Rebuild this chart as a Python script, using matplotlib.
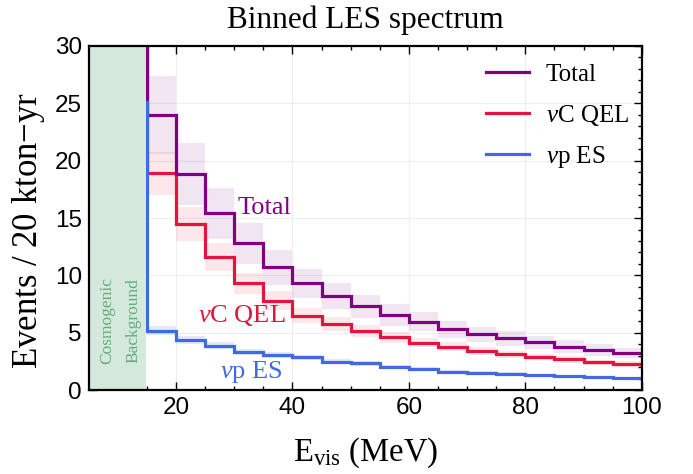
import numpy as np
import matplotlib
matplotlib.use('Agg')
import matplotlib.pyplot as plt
from matplotlib.ticker import MultipleLocator

plt.rcParams['font.family'] = 'serif'
plt.rcParams['font.serif'] = ['Liberation Serif', 'DejaVu Serif']
plt.rcParams['mathtext.fontset'] = 'custom'
plt.rcParams['mathtext.rm'] = 'Liberation Serif'
plt.rcParams['mathtext.it'] = 'Liberation Serif:italic'

# bin edges (MeV); the 10-15 bin sits under the cosmogenic band
edges = np.arange(10, 101, 5)

total = [60, 24.0, 18.8, 15.4, 12.8, 10.7, 9.3, 8.2, 7.3, 6.55, 5.95, 5.3, 4.85, 4.5, 4.15, 3.8, 3.5, 3.25]
qel = [35, 18.9, 14.5, 11.6, 9.3, 7.8, 6.5, 5.75, 5.15, 4.6, 4.13, 3.78, 3.4, 3.14, 2.9, 2.67, 2.42, 2.27]
pes = [25.1, 5.17, 4.4, 3.87, 3.34, 3.05, 2.85, 2.47, 2.32, 2.03, 1.83, 1.6, 1.51, 1.42, 1.31, 1.22, 1.1, 1.02]

# uncertainties for the visible bins (15-100 MeV)
total_err = [3.4, 2.7, 2.2, 1.8, 1.5, 1.3, 1.15, 1.0, 0.92, 0.83, 0.75, 0.68, 0.63, 0.58, 0.53, 0.49, 0.46]
qel_err = [1.9, 1.5, 1.2, 0.95, 0.8, 0.65, 0.58, 0.52, 0.46, 0.41, 0.38, 0.34, 0.31, 0.29, 0.27, 0.24, 0.23]
pes_err = [0.4, 0.35, 0.3, 0.27, 0.24, 0.22, 0.2, 0.18, 0.16, 0.15, 0.14, 0.13, 0.12, 0.11, 0.1, 0.09, 0.08]

c_tot = '#800080'
c_qel = '#e3153f'
c_pes = '#4169e1'

fig = plt.figure(figsize=(6.93, 4.74), dpi=100)
ax = fig.add_axes([0.128, 0.177, 0.798, 0.726])

# error bands
left = edges[1:-1]
for vals, err, col, a in [(total, total_err, c_tot, 0.1), (qel, qel_err, c_qel, 0.1), (pes, pes_err, c_pes, 0.14)]:
    v = np.array(vals[1:])
    e = np.array(err)
    ax.bar(left, 2 * e, bottom=v - e, width=5, align='edge', color=col, alpha=a, lw=0, zorder=1)

lw = 2.3
ax.stairs(qel, edges, baseline=None, color=c_qel, lw=lw, zorder=3, label=r'$\nu$C QEL')
ax.stairs(total, edges, baseline=None, color=c_tot, lw=lw, zorder=4, label='Total')
ax.stairs(pes, edges, baseline=None, color=c_pes, lw=lw, zorder=5, label=r'$\nu$p ES')

# cosmogenic background region
ax.axvspan(5, 14.8, color='#d4e8dc', lw=0, zorder=6)
ax.text(8.2, 6.1, 'Cosmogenic', rotation=90, ha='center', va='center',
        fontsize=12.5, color='#62ad7c', zorder=7)
ax.text(12.7, 6.1, 'Background', rotation=90, ha='center', va='center',
        fontsize=12.5, color='#62ad7c', zorder=7)

ax.text(30.6, 15.9, 'Total', color=c_tot, fontsize=19, va='center', ha='left')
ax.text(23.8, 6.5, r'$\nu$C QEL', color=c_qel, fontsize=19, va='center', ha='left')
ax.text(27.6, 1.6, r'$\nu$p ES', color=c_pes, fontsize=19, va='center', ha='left')

ax.set_xlim(5, 100)
ax.set_ylim(0, 30)
ax.xaxis.set_major_locator(MultipleLocator(20))
ax.xaxis.set_minor_locator(MultipleLocator(5))
ax.yaxis.set_major_locator(MultipleLocator(5))
ax.yaxis.set_minor_locator(MultipleLocator(1))
ax.grid(True, which='major', color='#eeeeee', lw=0.8, zorder=0)
ax.set_axisbelow(True)
ax.tick_params(which='both', direction='in', top=True, right=True, width=1.0)
ax.tick_params(which='major', length=6, labelsize=17.5, pad=5)
ax.tick_params(which='minor', length=3)
for lab in ax.get_xticklabels() + ax.get_yticklabels():
    lab.set_family('Liberation Sans')
for sp in ax.spines.values():
    sp.set_linewidth(1.6)
    sp.set_zorder(10)

ax.set_xlabel(r'E$_{\rm vis}$ (MeV)', fontsize=23.5, labelpad=12)
ax.set_ylabel(r'Events / 20 kton$-$yr', fontsize=25)
ax.yaxis.set_label_coords(-0.076, 0.465)
ax.set_title('Binned LES spectrum', fontsize=22.5, pad=13)

h, l = ax.get_legend_handles_labels()
order = [1, 0, 2]
ax.legend([h[i] for i in order], [l[i] for i in order], loc='upper left',
          bbox_to_anchor=(0.678, 1.014), frameon=False, fontsize=18,
          handlelength=1.7, handletextpad=0.68, labelspacing=0.66)

fig.savefig('out.png', dpi=100)
